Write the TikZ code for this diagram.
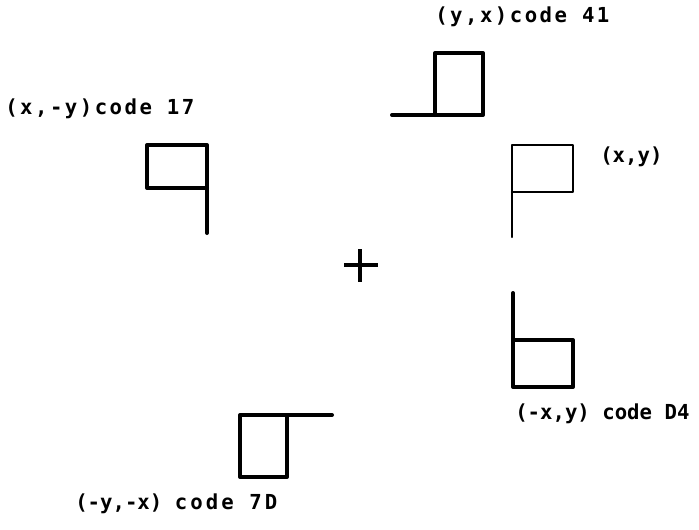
\documentclass[tikz,border=0pt]{standalone}
\usepackage{fontspec}
\usepackage{xcolor}
\usepackage{tikz}
\newfontfamily\labelfont{DejaVu Sans Mono}
\newcommand\spread[2]{{\addfontfeature{LetterSpace=#1}#2}}

\begin{document}
\begin{tikzpicture}[x=0.75pt,y=-0.75pt,
    flagline/.style={line width=3pt,line join=round,line cap=round},
    thinflag/.style={line width=1.6pt,line join=round,line cap=round},
    codelabel/.style={anchor=west,inner sep=0pt,font=\labelfont\bfseries\fontsize{15.5}{18}\selectfont}]
    \useasboundingbox (0,0) rectangle (699,529);
    \draw[line width=2.4pt] (344,265) -- (378,265);
    \draw[line width=2.4pt] (360,249) -- (360,282);
    \begin{scope}
      \draw[thinflag] (512,237) -- (512,145) -- (573,145) -- (573,192) -- (512,192);
      \node[codelabel] (lxy) at (600,157) {(x,y)};
    \end{scope}
    \begin{scope}
      \draw[flagline] (392,115) -- (483,115) -- (483,53) -- (435,53) -- (435,115);
      \node[codelabel] (lyx) at (435,17) {\spread{12}{(y,x)code 41}};
    \end{scope}
    \begin{scope}
      \draw[flagline] (207,233) -- (207,145) -- (147,145) -- (147,188) -- (207,188);
      \node[codelabel] (lxmy) at (5,109) {\spread{12}{(x,-y)code 17}};
    \end{scope}
    \begin{scope}
      \draw[flagline] (513,293) -- (513,387) -- (573,387) -- (573,340) -- (513,340);
      \node[codelabel] (lmxy) at (515,414) {(-x,y) code D4};
    \end{scope}
    \begin{scope}
      \draw[flagline] (332,415) -- (240,415) -- (240,477) -- (287,477) -- (287,415);
      \node[codelabel] (lmymx) at (75,504) {(-y,-x) \spread{15}{code 7D}};
    \end{scope}
  \end{tikzpicture}
\end{document}
